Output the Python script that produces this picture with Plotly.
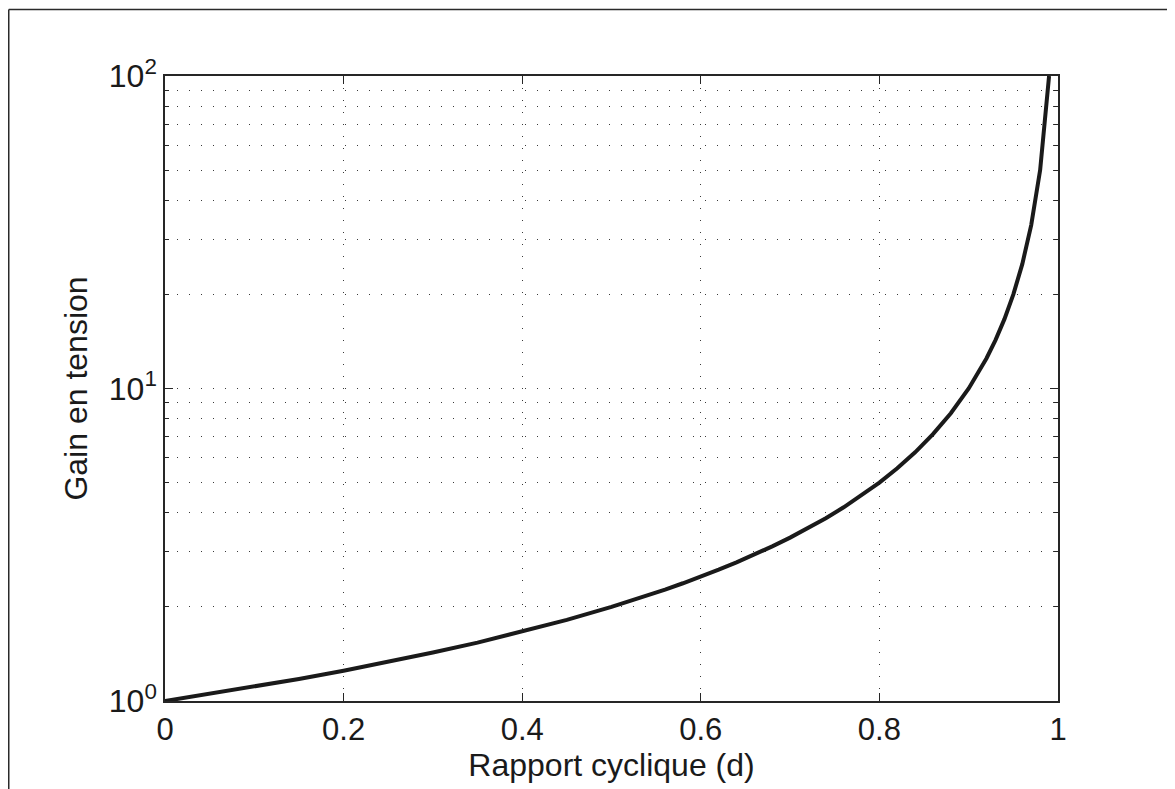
import plotly.graph_objects as go

# Data
duty_cycle = [0, 0.05, 0.1, 0.15, 0.2, 0.25, 0.3, 0.35, 0.4, 0.45, 0.5,
              0.52, 0.54, 0.56, 0.58, 0.6, 0.62, 0.64, 0.66, 0.68, 0.7,
              0.72, 0.74, 0.76, 0.78, 0.8, 0.82, 0.84, 0.86, 0.88, 0.9,
              0.91, 0.92, 0.93, 0.94, 0.95, 0.96, 0.97, 0.98, 0.99]
voltage_gain = [1.0, 1.053, 1.111, 1.176, 1.25, 1.333, 1.429, 1.538, 1.667, 1.818, 2.0,
                2.083, 2.174, 2.273, 2.381, 2.5, 2.632, 2.778, 2.941, 3.125, 3.333,
                3.571, 3.846, 4.167, 4.545, 5.0, 5.556, 6.25, 7.143, 8.333, 10.0,
                11.11, 12.5, 14.29, 16.67, 20.0, 25.0, 33.33, 50.0, 100.0]

x_tick_vals = [0, 0.2, 0.4, 0.6, 0.8, 1]
x_tick_text = ["0", "0.2", "0.4", "0.6", "0.8", "1"]
y_tick_vals = [1, 10, 100]
y_tick_text = ["10<sup>0</sup>", "10<sup>1</sup>", "10<sup>2</sup>"]
y_minor_vals = [2, 3, 4, 5, 6, 7, 8, 9, 20, 30, 40, 50, 60, 70, 80, 90]

x_title = "Rapport cyclique (d)"
y_title = "Gain en tension"

# The page body has an 8px margin, so the figure is shrunk to fit the window
OFF = 8
W, H = 1175 - OFF, 789 - OFF
L, R, T, B = 165 - OFF, 117, 76 - OFF, 88
pw, ph = W - L - R, H - T - B

FONT = "Liberation Sans, Arial, Helvetica, sans-serif"
AX = "#262626"
GRID = "#3a3a3a"
DASH = "1px,11px"

fig = go.Figure()
fig.add_trace(go.Scatter(
    x=duty_cycle, y=voltage_gain, mode="lines",
    line=dict(color="#1a1a1a", width=4),
    showlegend=False, hoverinfo="x+y",
))

fig.update_layout(
    width=W, height=H,
    margin=dict(l=L, r=R, t=T, b=B, autoexpand=False),
    paper_bgcolor="white", plot_bgcolor="white",
    font=dict(family=FONT, color="#1a1a1a", size=31),
    xaxis=dict(
        range=[0, 1], tickvals=x_tick_vals, ticktext=x_tick_text,
        ticks="inside", ticklen=8, tickwidth=1.2, tickcolor=AX,
        showline=True, linecolor=AX, linewidth=1.5, mirror="ticks",
        showgrid=True, gridcolor=GRID, gridwidth=1, griddash=DASH,
        zeroline=False, tickfont=dict(size=31),
        title=dict(text=x_title, font=dict(size=32), standoff=5),
        automargin=False,
    ),
    yaxis=dict(
        type="log", range=[0, 2], tickvals=y_tick_vals, ticktext=y_tick_text,
        ticks="inside", ticklen=8, tickwidth=1.2, tickcolor=AX,
        showline=True, linecolor=AX, linewidth=1.5, mirror="ticks",
        showgrid=True, gridcolor=GRID, gridwidth=1, griddash=DASH,
        zeroline=False, tickfont=dict(size=32),
        minor=dict(tickvals=y_minor_vals, ticks="inside", ticklen=4, tickwidth=1,
                   tickcolor=AX, showgrid=True, gridcolor=GRID, gridwidth=1, griddash=DASH),
        title=dict(text=y_title, font=dict(size=32), standoff=12),
        automargin=False,
    ),
)

# outer figure frame (top and left edges visible in the reference)
fx = (0.75 - L) / pw
fy = (H - B - 1.5) / ph
fig.add_shape(type="line", xref="paper", yref="paper", x0=fx, x1=(W + 5 - L) / pw, y0=fy, y1=fy,
              line=dict(color="#2a2a2a", width=1.5))
fig.add_shape(type="line", xref="paper", yref="paper", x0=fx, x1=fx, y0=fy, y1=-(B + 5) / ph,
              line=dict(color="#2a2a2a", width=1.5))

fig.write_html("out.html")
